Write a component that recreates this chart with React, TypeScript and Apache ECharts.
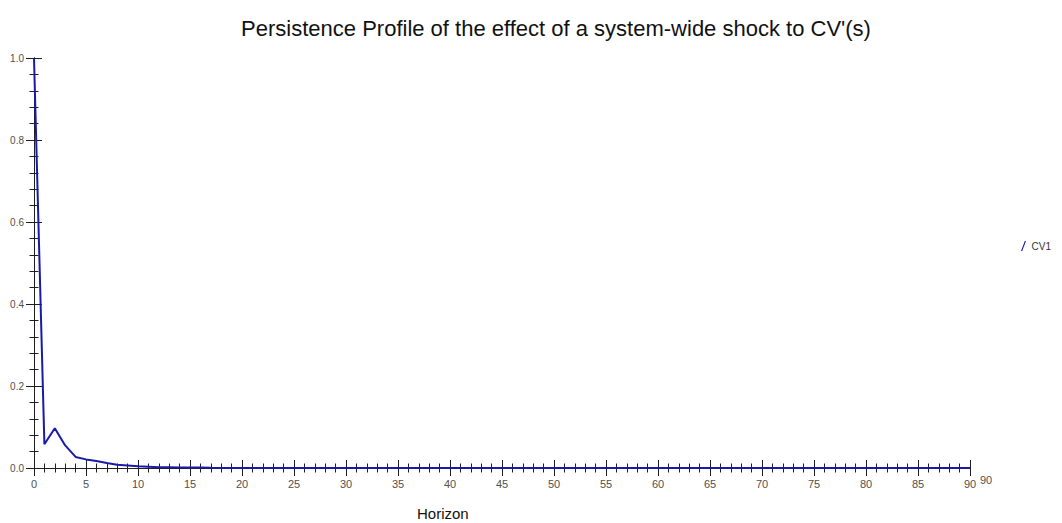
import React, { useEffect, useRef } from "react";
import * as echarts from "echarts";

const titleText = "Persistence Profile of the effect of a system-wide shock to CV'(s)";
const seriesName = "CV1";
const xAxisTitle = "Horizon";
const horizons: number[] = [
  0, 1, 2, 3, 4, 5, 6, 7, 8, 9, 10, 11, 12, 13, 14, 15, 16, 17, 18, 19, 20,
  21, 22, 23, 24, 25, 26, 27, 28, 29, 30, 31, 32, 33, 34, 35, 36, 37, 38, 39, 40,
  41, 42, 43, 44, 45, 46, 47, 48, 49, 50, 51, 52, 53, 54, 55, 56, 57, 58, 59, 60,
  61, 62, 63, 64, 65, 66, 67, 68, 69, 70, 71, 72, 73, 74, 75, 76, 77, 78, 79, 80,
  81, 82, 83, 84, 85, 86, 87, 88, 89, 90,
];
const cv1Values: number[] = [
  1.0, 0.058, 0.097, 0.055, 0.027, 0.021, 0.017, 0.012, 0.008, 0.006, 0.004,
  0.003, 0.002, 0.002, 0.0015, 0.001, 0.001, 0.0005, 0.0003, 0.0002, 0.0001,
  0, 0, 0, 0, 0, 0, 0, 0, 0, 0, 0, 0, 0, 0, 0, 0, 0, 0, 0, 0,
  0, 0, 0, 0, 0, 0, 0, 0, 0, 0, 0, 0, 0, 0, 0, 0, 0, 0, 0, 0,
  0, 0, 0, 0, 0, 0, 0, 0, 0, 0, 0, 0, 0, 0, 0, 0, 0, 0, 0, 0,
  0, 0, 0, 0, 0, 0, 0, 0, 0, 0,
];
const extraEndLabel = "90";

const FONT = "'Liberation Sans', Arial, sans-serif";
const AXIS_COLOR = "#1e1e1e";
const LINE_COLOR = "#1a1aa8";
const LABEL_COLOR = "#505050";

export default function App() {
  const ref = useRef<HTMLDivElement>(null);
  useEffect(() => {
    document.body.style.margin = "0";
    if (!ref.current) return;
    const chart = echarts.init(ref.current, undefined, { renderer: "svg" });

    const xBase = {
      type: "value" as const,
      min: 0,
      max: 90,
      interval: 5,
      position: "bottom" as const,
      splitLine: { show: false },
      axisLine: { show: true, lineStyle: { color: AXIS_COLOR, width: 1 } },
    };
    const yBase = {
      type: "value" as const,
      min: 0,
      max: 1,
      interval: 0.2,
      position: "left" as const,
      splitLine: { show: false },
      axisLine: { show: true, lineStyle: { color: AXIS_COLOR, width: 1 } },
    };

    chart.setOption({
      animation: false,
      backgroundColor: "#ffffff",
      title: {
        text: titleText,
        left: 551,
        textAlign: "center",
        top: 12,
        textStyle: { fontFamily: FONT, fontSize: 22, fontWeight: "normal", color: "#111" },
      },
      legend: {
        data: [{ name: seriesName, icon: "path://M0,10 L1.2,10 L5,0 L3.8,0 Z" }],
        orient: "vertical",
        left: 1016,
        top: 236,
        itemWidth: 6,
        itemHeight: 10,
        itemGap: 4,
        textStyle: { fontFamily: FONT, fontSize: 10, color: "#333" },
      },
      grid: { left: 34, right: 92, top: 58, bottom: 55, containLabel: false },
      xAxis: [
        {
          ...xBase,
          axisTick: { show: true, inside: false, length: 8, lineStyle: { color: AXIS_COLOR } },
          minorTick: { show: true, splitNumber: 5, length: 4.5, lineStyle: { color: AXIS_COLOR } },
          axisLabel: { show: true, margin: 10, fontFamily: FONT, fontSize: 11, color: LABEL_COLOR },
        },
        {
          ...xBase,
          axisTick: { show: true, inside: true, length: 8, lineStyle: { color: AXIS_COLOR } },
          minorTick: { show: true, splitNumber: 5, length: 4.5, lineStyle: { color: AXIS_COLOR } },
          axisLabel: { show: false },
        },
      ],
      yAxis: [
        {
          ...yBase,
          axisTick: { show: true, inside: false, length: 8, lineStyle: { color: AXIS_COLOR } },
          minorTick: { show: true, splitNumber: 5, length: 4.5, lineStyle: { color: AXIS_COLOR } },
          axisLabel: {
            show: true,
            margin: 10,
            fontFamily: FONT,
            fontSize: 10,
            color: LABEL_COLOR,
            formatter: (v: number) => v.toFixed(1),
          },
        },
        {
          ...yBase,
          axisTick: { show: true, inside: true, length: 8, lineStyle: { color: AXIS_COLOR } },
          minorTick: { show: true, splitNumber: 5, length: 4.5, lineStyle: { color: AXIS_COLOR } },
          axisLabel: { show: false },
        },
      ],
      series: [
        {
          name: seriesName,
          type: "line",
          xAxisIndex: 0,
          yAxisIndex: 0,
          data: horizons.map((h, i) => [h, cv1Values[i]]),
          showSymbol: false,
          symbol: "none",
          itemStyle: { color: LINE_COLOR },
          lineStyle: { color: LINE_COLOR, width: 2 },
          z: 5,
        },
      ],
      graphic: [
        {
          type: "text",
          left: 980,
          top: 474,
          style: { text: extraEndLabel, font: `11px ${FONT}`, fill: LABEL_COLOR },
        },
        {
          type: "text",
          left: 417,
          top: 506,
          style: { text: xAxisTitle, font: `15px ${FONT}`, fill: "#111" },
        },
      ],
    });
    return () => chart.dispose();
  }, []);
  return <div ref={ref} style={{ width: 1062, height: 523 }} />;
}
